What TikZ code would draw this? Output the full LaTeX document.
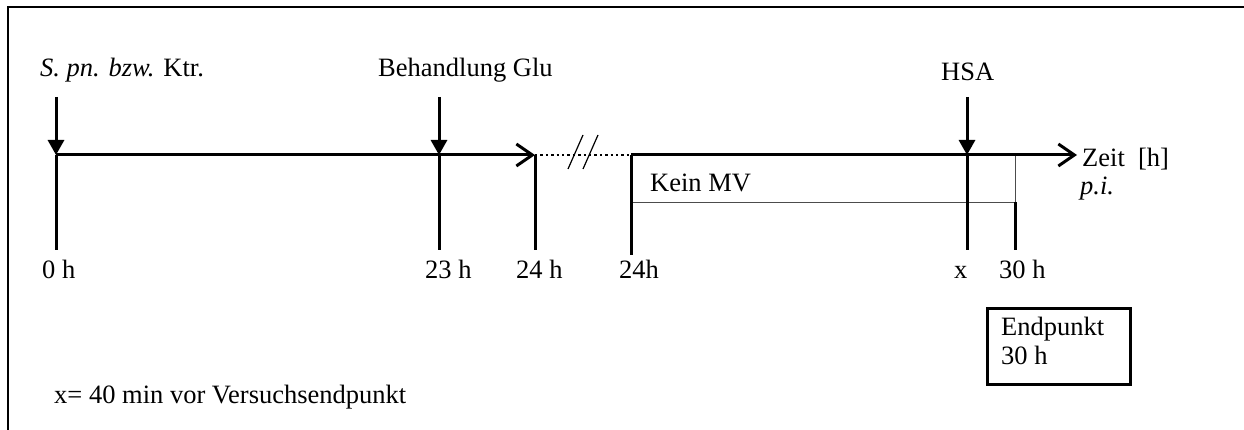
\documentclass[tikz,border=0pt]{standalone}
\usepackage{fontspec}
\setmainfont{Liberation Serif}
\usetikzlibrary{arrows.meta}
\tikzset{
  lab/.style={anchor=base west, inner sep=0pt, font=\fontsize{26.5}{29}\selectfont},
  thick line/.style={line width=3pt},
  down arrow/.style={thick line, -{Triangle[length=15pt,width=16pt]}},
  time arrow/.style={thick line, -{Straight Barb[length=16pt,width=22pt,line width=3pt]}},
  thin box/.style={draw=black!70, line width=1.4pt},
  frame line/.style={line width=2.4pt}
}
\begin{document}
\begin{tikzpicture}[x=1pt,y=-1pt]
\useasboundingbox (0,0) rectangle (1244,430);
% frame (left and top only)
\coordinate (fbl) at (8,430);
\coordinate (ftl) at (8,7);
\coordinate (ftr) at (1244,7);
\draw[frame line] (fbl) -- (ftl) -- (ftr);

% coordinates
\coordinate (a0) at (56,97);
\coordinate (t0) at (56,155);
\coordinate (t0b) at (56,250);
\coordinate (a23) at (439,97);
\coordinate (t23) at (439,155);
\coordinate (t23b) at (439,250);
\coordinate (t24) at (535,155);
\coordinate (t24b) at (535,250);
\coordinate (s24) at (631,155);
\coordinate (s24b) at (631,255);
\coordinate (aH) at (967,97);
\coordinate (tH) at (967,155);
\coordinate (tHb) at (967,250);
\coordinate (t30) at (1015,155);
\coordinate (t30m) at (1015,202);
\coordinate (t30b) at (1015,250);
\coordinate (tend) at (1077,155);

% Kein MV box
\node[thin box, inner sep=0pt, minimum width=384pt, minimum height=47pt, anchor=north west] (kein) at (631,155) {};
\node[lab] (keintxt) at (650,192) {Kein MV};

% timeline
\draw[time arrow] (t0) -- (t24);
\draw[dash pattern=on 2.4pt off 3pt, line width=2.4pt] (t24) -- (s24);
\coordinate (sl1a) at (568,169); \coordinate (sl1b) at (583,135);
\coordinate (sl2a) at (583,169); \coordinate (sl2b) at (598,135);
\draw[line width=1.2pt] (sl1a) -- (sl1b);
\draw[line width=1.2pt] (sl2a) -- (sl2b);
\draw[time arrow] (s24) -- (tend);

% ticks
\draw[thick line] (t0) -- (t0b);
\draw[thick line] (t23) -- (t23b);
\draw[thick line] (t24) -- (t24b);
\draw[thick line] (s24) -- (s24b);
\draw[thick line] (tH) -- (tHb);
\draw[thick line] (t30m) -- (t30b);

% down arrows
\draw[down arrow] (a0) -- (t0);
\draw[down arrow] (a23) -- (t23);
\draw[down arrow] (aH) -- (tH);

% labels
\node[lab] (spn) at (40,77) {\textit{S. pn. bzw.} Ktr.};
\node[lab] (beh) at (378,77) {Behandlung Glu};
\node[lab] (hsa) at (941,81) {HSA};
\node[lab] (zeit) at (1082,167) {Zeit\ \ [h]};
\node[lab] (pi) at (1080,195) {\textit{p.i.}};
\node[lab] (l0) at (42,278) {0 h};
\node[lab] (l23) at (425,278) {23 h};
\node[lab] (l24) at (516,278) {24 h};
\node[lab] (l24b) at (619,278) {24h};
\node[lab] (lx) at (954,278) {x};
\node[lab] (l30) at (999,278) {30 h};

% Endpunkt box
\node[draw, line width=2.6pt, inner sep=0pt, minimum width=143pt, minimum height=76pt, anchor=north west] (endbox) at (986,307) {};
\node[lab, align=left, anchor=north west] (endtxt) at (1001,317) {Endpunkt\\30 h};

\node[lab] (note) at (54,403) {x= 40 min vor Versuchsendpunkt};
\end{tikzpicture}
\end{document}
